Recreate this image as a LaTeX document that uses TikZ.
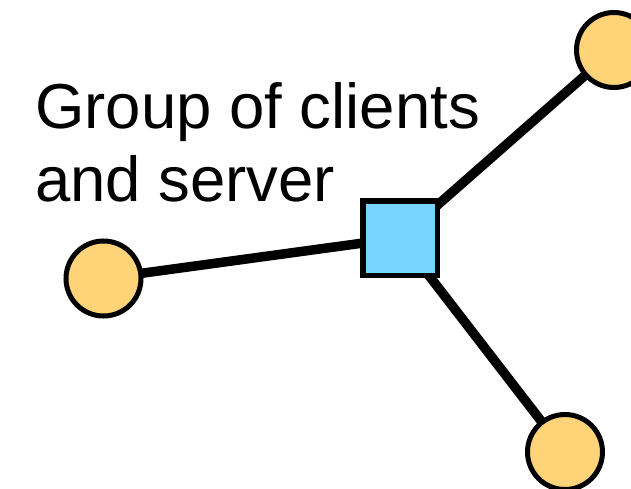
\documentclass[tikz,border=0pt]{standalone}
\usepackage{fontspec}
\setmainfont{Liberation Sans}
\definecolor{clientfill}{RGB}{255,211,120}
\definecolor{serverfill}{RGB}{119,212,255}
\tikzset{
  client/.style={circle, draw=black, line width=5pt, fill=clientfill, minimum size=75pt, inner sep=0pt},
  server/.style={rectangle, draw=black, line width=5.5pt, fill=serverfill, minimum size=74.5pt, inner sep=0pt},
  link/.style={line width=9.5pt, draw=black},
  caption/.style={font=\fontsize{63.5}{73.5}\selectfont, align=left, anchor=north west, inner sep=0pt}
}
\begin{document}
\begin{tikzpicture}[x=1pt, y=-1pt]
  \useasboundingbox (0,0) rectangle (631,489);
  \begin{scope}
    \clip (0,0) rectangle (631,489);
    \coordinate (sc) at (400,238);
    \coordinate (lc) at (103.5,278.5);
    \coordinate (tc) at (614,50);
    \coordinate (bc) at (565,452);
    % connectors from the server to each client
    \draw[link] (sc) -- (lc);
    \draw[link] (sc) -- (tc);
    \draw[link] (sc) -- (bc);
    % nodes
    \node[server] (server) at (sc) {};
    \node[client] (left) at (lc) {};
    \node[client] (top) at (tc) {};
    \node[client] (bottom) at (bc) {};
  \end{scope}
  \node[caption] (label) at (35,82) {Group of clients\\and server};
\end{tikzpicture}
\end{document}
